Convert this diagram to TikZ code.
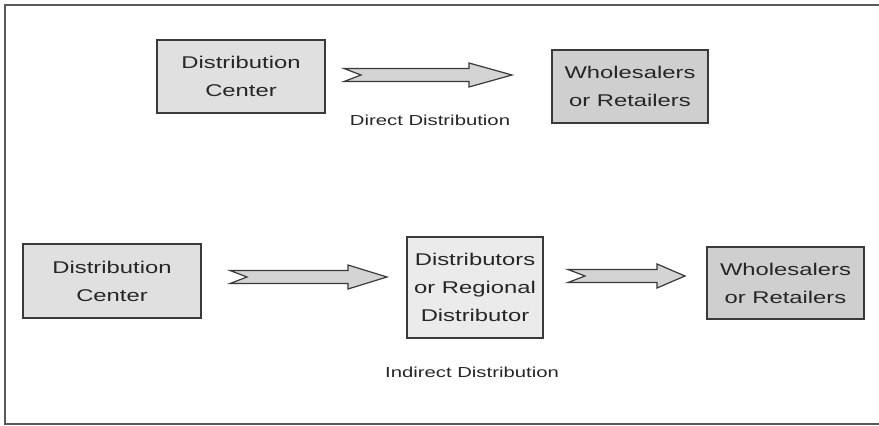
\documentclass[tikz,border=0pt]{standalone}
\usepackage{fontspec}
\setmainfont{Liberation Sans}[FakeStretch=1.4]
\usetikzlibrary{calc}

\definecolor{boxedge}{HTML}{3A3A3A}
\definecolor{centerfill}{HTML}{E0E0E0}
\definecolor{distfill}{HTML}{EBEBEB}
\definecolor{retailfill}{HTML}{CFCFCF}
\definecolor{arrowfill}{HTML}{D4D4D4}
\definecolor{frameedge}{HTML}{5A5A5A}

\tikzset{
  unitbox/.style={draw=boxedge, line width=1.3pt, rectangle, align=center,
    inner sep=0pt, font=\fontsize{17}{28}\selectfont, text=black!85},
  centerbox/.style={unitbox, fill=centerfill},
  distbox/.style={unitbox, fill=distfill},
  retailbox/.style={unitbox, fill=retailfill},
  caption/.style={font=\fontsize{14.5}{18}\selectfont, text=black!85, inner sep=0pt},
  fatarrow/.style={draw=boxedge, line width=1.2pt, fill=arrowfill, line join=miter}
}

% notched block arrow: #1 tail, #2 tip, #3 head length
\newcommand\blockarrow[3]{%
  \draw[fatarrow] let \p1=(#1), \p2=(#2) in
    (\x1,{\y1+6.5pt}) -- ({\x2-#3pt},{\y1+6.5pt}) -- ({\x2-#3pt},{\y1+12pt})
    -- (\x2,\y1) -- ({\x2-#3pt},{\y1-12pt}) -- ({\x2-#3pt},{\y1-6.5pt})
    -- (\x1,{\y1-6.5pt}) -- ({\x1+17pt},\y1) -- cycle;}

\begin{document}
\begin{tikzpicture}[x=1pt, y=-1pt]
  \useasboundingbox (0,0) rectangle (879,426);
  \fill[white] (0,0) rectangle (879,426);

  % open frame (no right side)
  \draw[frameedge, line width=2pt] (879,5) -- (5,5) -- (5,424) -- (879,424);

  % direct distribution
  \node[centerbox, minimum width=168pt, minimum height=73pt] (dc1) at (241,76.5)
    {Distribution\\Center};
  \node[retailbox, minimum width=156pt, minimum height=73pt] (wr1) at (630,86.5)
    {Wholesalers\\or Retailers};
  \coordinate (a1t) at (344,75);
  \coordinate (a1h) at (512,75);
  \blockarrow{a1t}{a1h}{43}
  \node[caption] (lab1) at (430,120) {Direct Distribution};

  % indirect distribution
  \node[centerbox, minimum width=178pt, minimum height=74pt] (dc2) at (112,281)
    {Distribution\\Center};
  \node[distbox, minimum width=136pt, minimum height=101pt] (dist) at (475,287.5)
    {Distributors\\or Regional\\Distributor};
  \node[retailbox, minimum width=157pt, minimum height=72pt] (wr2) at (785.5,283)
    {Wholesalers\\or Retailers};
  \coordinate (a2t) at (230,277);
  \coordinate (a2h) at (387,277);
  \blockarrow{a2t}{a2h}{39}
  \coordinate (a3t) at (568,276);
  \coordinate (a3h) at (685,276);
  \blockarrow{a3t}{a3h}{28}
  \node[caption] (lab2) at (472,372) {Indirect Distribution};
\end{tikzpicture}
\end{document}
